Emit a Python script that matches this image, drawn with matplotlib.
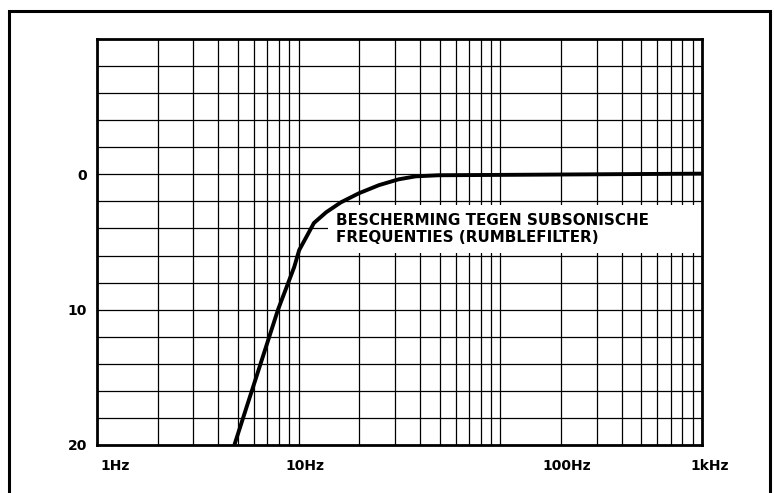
# -*- coding: utf-8 -*-
"""
Rumblefilter – frequentiekarakteristiek (1 Hz – 1 kHz)
Nagebouwd van een gescande grafiek: log-as, dB omgekeerd.
"""

import numpy as np
import matplotlib.pyplot as plt
from matplotlib.patches import Rectangle

# -------------------- data
freq_hz = [4.8, 7.9, 9.5, 10.06, 10.9, 11.9, 13.7, 16.2, 19.9, 25.0, 31.3, 38.0, 49.4, 1000.0]
level_db = [20.0, 10.0, 6.86, 5.6, 4.65, 3.6, 2.8, 2.07, 1.4, 0.8, 0.37, 0.15, 0.07, -0.05]

y_ticks = [0, 10, 20]
y_tick_labels = ["0", "10", "20"]
x_labels = ["1Hz", "10Hz", "100Hz", "1kHz"]

caption = "BESCHERMING TEGEN SUBSONISCHE\nFREQUENTIES (RUMBLEFILTER)"

# -------------------- layout
W, H, DPI = 7.74, 4.93, 100
X_MIN, X_MAX = 1, 1000
Y_MIN, Y_MAX = -10, 20
FONT = "DejaVu Sans"

# plaats van de x-labels in assen-fractie (zoals in het origineel, niet precies op de lijnen)
X_LABEL_POS = [(0.005, "left"), (0.344, "center"), (0.777, "center"), (1.013, "center")]


def main():
    fig = plt.figure(figsize=(W, H), dpi=DPI)
    ax = fig.add_axes([0.1253, 0.0974, 0.7817, 0.8235])

    ax.set_xscale("log")
    ax.set_xlim(X_MIN, X_MAX)
    ax.set_ylim(Y_MAX, Y_MIN)  # omgekeerd: 0 boven, 20 onder

    # raster: 1..9 per decade, elke 2 dB
    grid_x = [m * 10 ** k for k in range(0, 3) for m in range(2, 10)] + [10, 100]
    for gx in grid_x:
        ax.axvline(gx, color="black", lw=0.9, zorder=1)
    for gy in np.arange(Y_MIN + 2, Y_MAX, 2):
        ax.axhline(gy, color="black", lw=0.9, zorder=1)

    # wit vlak achter het onderschrift
    ax.add_patch(Rectangle((14.0, 2.3), 1000 - 14.0, 3.5, facecolor="white",
                           edgecolor="none", zorder=2))

    # curve
    ax.plot(freq_hz, level_db, color="black", lw=2.8, solid_capstyle="butt",
            solid_joinstyle="round", zorder=3)

    ax.text(15.3, 2.85, caption, ha="left", va="top", fontsize=10.9,
            fontweight="bold", family=FONT, linespacing=1.2, zorder=4)

    # assen
    for s in ax.spines.values():
        s.set_linewidth(2.0)
        s.set_color("black")
    ax.set_xticks([])
    ax.set_xticks([], minor=True)
    ax.set_yticks(y_ticks)
    ax.set_yticklabels(y_tick_labels, fontsize=10, fontweight="bold", family=FONT)
    ax.tick_params(axis="y", length=0, pad=7)

    for (xf, ha), lab in zip(X_LABEL_POS, x_labels):
        ax.text(xf, -0.052, lab, transform=ax.transAxes, ha=ha, va="center",
                fontsize=10, fontweight="bold", family=FONT)

    # buitenkader (onderkant valt buiten beeld)
    fig.add_artist(Rectangle((0.0116, -0.1), 0.9832, 1.0777, transform=fig.transFigure,
                             facecolor="none", edgecolor="black", lw=2.2, clip_on=False))

    fig.savefig("out.png", dpi=DPI)
    plt.close(fig)


if __name__ == "__main__":
    main()
